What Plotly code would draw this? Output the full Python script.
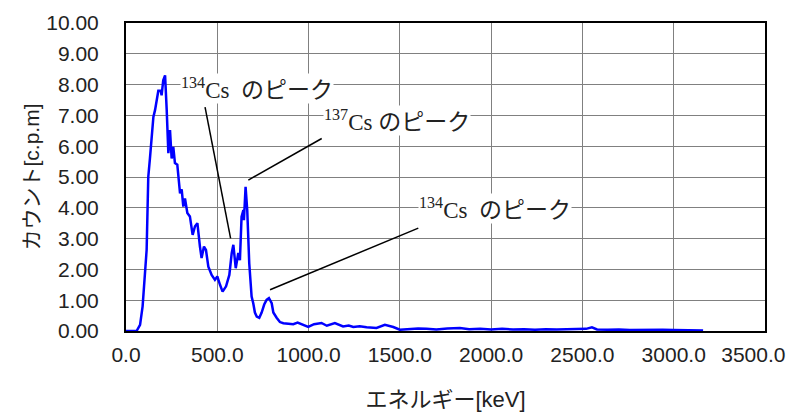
import plotly.graph_objects as go

# Energy [keV] and count [c.p.m]
energy = [0, 58, 77, 91, 113, 122, 131, 141, 150, 159, 177, 190, 195, 204, 214,
          223, 232, 241, 250, 259, 268, 281, 296, 305, 314, 323, 336, 350, 365,
          378, 391, 405, 414, 427, 438, 451, 469, 487, 500, 515, 529, 548, 566,
          579, 588, 601, 615, 624, 633, 643, 646, 655, 664, 675, 688, 697, 706,
          716, 730, 743, 757, 770, 783, 798, 807, 825, 843, 862, 889, 916, 940,
          970, 998, 1030, 1071, 1100, 1144, 1189, 1220, 1245, 1280, 1318, 1372,
          1418, 1464, 1500, 1555, 1600, 1646, 1700, 1760, 1829, 1880, 1940,
          2000, 2060, 2120, 2180, 2240, 2300, 2360, 2420, 2480, 2520, 2552,
          2580, 2640, 2700, 2760, 2820, 2880, 2940, 3000, 3060, 3120, 3161]
counts = [0.00, 0.00, 0.20, 0.80, 2.63, 5.00, 5.60, 6.20, 6.95, 7.17, 7.80, 7.80,
          7.65, 8.14, 8.30, 7.17, 5.77, 6.52, 5.60, 5.98, 5.45, 5.40, 4.47, 4.60,
          4.04, 4.30, 3.83, 3.72, 3.12, 3.40, 3.50, 2.74, 2.37, 2.74, 2.63, 2.09,
          1.82, 1.66, 1.77, 1.50, 1.28, 1.45, 1.82, 2.53, 2.80, 2.04, 2.53, 2.30,
          3.71, 3.93, 3.60, 4.68, 3.93, 2.20, 1.12, 0.90, 0.60, 0.47, 0.43, 0.60,
          0.86, 1.01, 1.07, 0.90, 0.60, 0.43, 0.29, 0.25, 0.24, 0.22, 0.27, 0.20,
          0.13, 0.22, 0.26, 0.17, 0.26, 0.15, 0.18, 0.13, 0.15, 0.12, 0.10, 0.20,
          0.13, 0.04, 0.06, 0.08, 0.07, 0.05, 0.08, 0.10, 0.06, 0.07, 0.05, 0.07,
          0.05, 0.06, 0.04, 0.06, 0.05, 0.06, 0.05, 0.07, 0.12, 0.05, 0.04, 0.05,
          0.03, 0.04, 0.03, 0.04, 0.03, 0.03, 0.02, 0.02]

x_ticks = [0, 500, 1000, 1500, 2000, 2500, 3000, 3500]
y_ticks = [0, 1, 2, 3, 4, 5, 6, 7, 8, 9, 10]

# Peak labels: text, text anchor (left, middle), leader line start -> end
labels = ["<sup>134</sup>Cs  のピーク", "<sup>137</sup>Cs のピーク", "<sup>134</sup>Cs  のピーク"]
label_x = [296, 1079, 1599]
label_y = [7.88, 6.85, 3.99]
line_x0 = [433, 1072, 1601]
line_y0 = [7.27, 6.25, 3.34]
line_x1 = [573, 670, 789]
line_y1 = [3.01, 4.90, 1.34]

fig = go.Figure()
fig.add_trace(go.Scatter(x=energy, y=counts, mode="lines",
                         line=dict(color="#0000FF", width=2.5),
                         showlegend=False, hoverinfo="skip"))

for i in range(len(labels)):
    fig.add_shape(type="line", xref="x", yref="y",
                  x0=line_x0[i], y0=line_y0[i], x1=line_x1[i], y1=line_y1[i],
                  line=dict(color="black", width=1.5))
    fig.add_annotation(x=label_x[i], y=label_y[i], xref="x", yref="y",
                       text=labels[i], showarrow=False, xanchor="left",
                       yanchor="middle", bgcolor="white", borderpad=0,
                       font=dict(family="Liberation Serif, Noto Sans CJK JP",
                                 size=23, color="#222222"))

# x tick labels; the last one is nudged left (trailing no-break spaces) so it fits
x_ticktext = [f"{v:.1f}" for v in x_ticks]
x_ticktext[-1] = x_ticktext[-1] + "\u00a0" * 4

# page body has an 8px margin, so the figure is made 8px smaller
fig.update_layout(
    width=786, height=404,
    margin=dict(l=118, r=29, t=15, b=81),
    paper_bgcolor="white", plot_bgcolor="white",
    font=dict(family="Liberation Sans, Arial, Noto Sans CJK JP", color="#222222"),
    xaxis=dict(range=[0, 3500], tickvals=x_ticks, ticktext=x_ticktext,
               showgrid=True, gridcolor="#808080", gridwidth=1,
               showline=True, linecolor="black", linewidth=2, mirror=True,
               ticks="", tickfont=dict(size=21), zeroline=False,
               ticklabelstandoff=4, automargin=False, ticklabeloverflow="allow",
               title=dict(text="エネルギー[keV]", font=dict(size=22), standoff=38)),
    yaxis=dict(range=[0, 10], tickvals=y_ticks,
               ticktext=[f"{v:.2f}" for v in y_ticks],
               showgrid=True, gridcolor="#808080", gridwidth=1,
               showline=True, linecolor="black", linewidth=2, mirror=True,
               ticks="", tickfont=dict(size=21), zeroline=False,
               ticklabelstandoff=21, automargin=False, ticklabeloverflow="allow",
               title=dict(text="カウント[c.p.m]", font=dict(size=21), standoff=1)),
)

fig.write_html("out.html")
